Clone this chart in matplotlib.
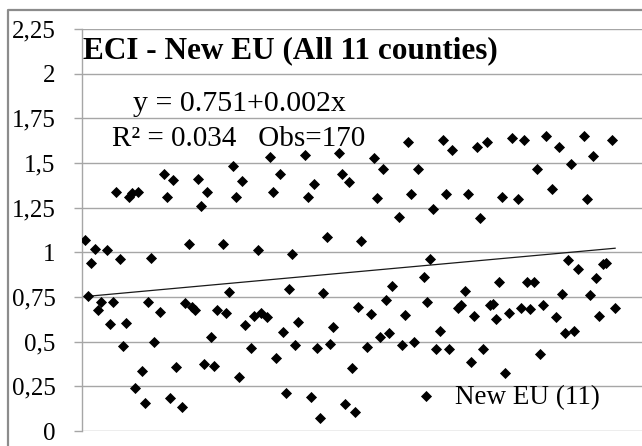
import matplotlib
matplotlib.use("Agg")
import matplotlib.pyplot as plt
from matplotlib.lines import Line2D

# Observation number and ECI value for each New EU country-year
obs = [1, 2, 3, 4, 5, 6, 8, 9, 10, 11, 12, 13, 14, 15, 16, 17, 18, 19, 20,
       21, 22, 23, 25, 26, 27, 28, 29, 30, 32, 33, 34, 35, 36, 37, 38, 39,
       40, 41,
       42, 43, 45, 46, 47, 48, 49, 50, 51, 52, 54, 55, 56, 57, 59, 60, 61,
       62, 63, 64, 65, 66, 67, 68, 69, 71, 72, 73, 74, 75, 76, 77, 78, 79,
       80, 82, 83, 84, 85, 86,
       87, 88, 89, 91, 92, 93, 94, 95, 96, 97, 98, 99, 101, 102, 103, 104,
       105, 106, 107, 109, 110, 111, 112, 113, 114, 115, 116, 117, 118, 120,
       121, 122, 123, 124, 125, 126, 127, 128, 129, 130,
       131, 132, 133, 134, 135, 136, 137, 139, 140, 141, 142, 143, 144, 145,
       146, 147, 148, 150, 151, 152, 153, 154, 155, 156, 157, 158, 160, 161,
       162, 163, 164, 165, 166, 167, 169, 170]
eci = [1.068, 0.755, 0.938, 1.016, 0.680, 0.723, 1.012, 0.597, 0.720, 1.339,
       0.960, 0.477, 0.602, 1.310, 1.330, 0.239, 1.340, 0.337, 0.155, 0.720,
       0.969, 0.496, 0.664, 1.437, 1.310, 0.186, 1.404, 0.356, 0.136, 0.714,
       1.046, 0.695, 0.677, 1.410, 1.260, 0.373, 1.340, 0.524,
       0.364, 0.677, 1.046, 0.658, 0.779, 1.484, 1.310, 0.300, 1.398, 0.593,
       0.462, 0.643, 1.012, 0.658, 0.639, 1.534, 1.335, 0.407, 1.441, 0.552,
       0.214, 0.794, 0.988, 0.481, 0.608, 1.544, 1.310, 0.192, 1.380, 0.462,
       0.071, 0.770, 1.087, 0.487, 0.580, 1.557, 1.441, 0.149, 1.394, 0.351,
       0.105, 0.695, 1.063, 0.472, 0.654, 1.529, 1.305, 0.524, 1.469, 0.733,
       0.550, 0.811, 1.195, 0.481, 0.649, 1.618, 1.324, 0.496, 1.469, 0.863,
       0.723, 0.962, 1.242, 0.457, 0.559, 1.627, 1.329, 0.457, 1.572, 0.686,
       0.705, 0.785, 1.324, 0.388, 0.645, 1.590, 1.190, 0.457, 1.618, 0.705,
       0.710, 0.626, 0.835, 1.307, 0.323, 0.658, 1.640, 1.301, 0.686, 1.630,
       0.835, 0.681, 0.835, 1.464, 0.429, 0.705, 1.650, 1.353, 0.639, 1.587,
       0.765, 0.550, 0.956, 1.497, 0.561, 0.904, 1.650, 1.301, 0.761, 1.538,
       0.854, 0.645, 0.934, 0.941, 1.630, 0.686]

# Linear trend reported for the series
intercept = 0.751
slope = 0.0016
r_squared = 0.034
n_obs = 170

title = "ECI - New EU (All 11 counties)"
series_name = "New EU (11)"
y_ticks = [0, 0.25, 0.5, 0.75, 1, 1.25, 1.5, 1.75, 2, 2.25]
y_tick_labels = ["0", "0,25", "0,5", "0,75", "1", "1,25", "1,5", "1,75",
                 "2", "2,25"]

W, H = 642, 446
fig = plt.figure(figsize=(W / 100, H / 100), dpi=100)
fig.patch.set_facecolor("white")


def fx(px):
    return px / W


def fy(py):
    return 1 - py / H


serif = ["Liberation Serif", "DejaVu Serif"]
grid_col = "#a6a6a6"
marker_size = 32

# plot area (extends slightly past the right edge of the canvas)
left, right, top, bottom = 82, 646.5, 29, 431
ax = fig.add_axes([fx(left), fy(bottom), fx(right - left), (bottom - top) / H])
ax.set_xlim(0, 180)
ax.set_ylim(0, 2.25)
ax.set_facecolor("none")

for v in y_ticks:
    ax.axhline(v, color=grid_col, lw=1.0, zorder=0)

for s in ["top", "right", "bottom"]:
    ax.spines[s].set_visible(False)
ax.spines["left"].set_color(grid_col)
ax.spines["left"].set_linewidth(1.0)
ax.set_xticks([])
ax.set_yticks(y_ticks)
ax.set_yticklabels(y_tick_labels, fontfamily=serif, fontsize=18)
ax.tick_params(axis="y", direction="out", length=6, width=1.0,
               color=grid_col, pad=13)

# trend line
tx = [1, n_obs]
ty = [intercept + slope * t for t in tx]
ax.plot(tx, ty, color="#1a1a1a", lw=0.9, zorder=2)

# data points
ax.scatter(obs, eci, marker="D", s=marker_size, color="black", linewidths=0,
           zorder=3, label=series_name)

# titles and annotations
fig.text(fx(83), fy(51), title, fontfamily=serif, fontweight="bold",
         fontsize=22.5, ha="left", va="center")
fig.text(fx(133), fy(104), f"y = {intercept:.3f}+{slope:.3f}x",
         fontfamily=serif, fontsize=21.5, ha="left", va="center")
fig.text(fx(112), fy(139), f"R\u00b2 = {r_squared:.3f}   Obs={n_obs}",
         fontfamily=serif, fontsize=21, ha="left", va="center")

# legend
ax.scatter([(426 - left) / (right - left) * 180],
           [(bottom - 396) / (bottom - top) * 2.25],
           marker="D", s=marker_size, color="black", linewidths=0, zorder=3,
           clip_on=False)
fig.text(fx(455), fy(398), series_name, fontfamily=serif, fontsize=19.5,
         ha="left", va="center")

# chart-area border
fig.add_artist(Line2D([fx(8), fx(8), fx(W + 5)], [fy(H + 5), fy(10), fy(10)],
                      color="#8c8c8c", lw=1.6, transform=fig.transFigure))

fig.savefig("out.png", dpi=100, facecolor="white")
